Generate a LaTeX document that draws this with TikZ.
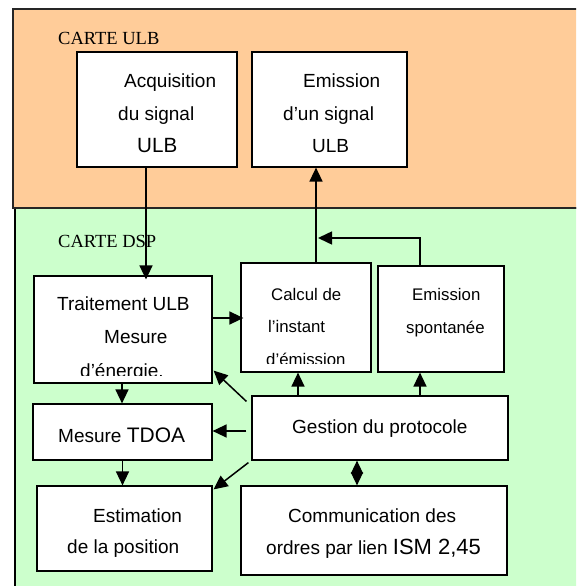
\documentclass[tikz,border=0pt]{standalone}
\usepackage{fontspec}
\setmainfont{Liberation Sans}
\newfontfamily\cartefont{Liberation Serif}
\usetikzlibrary{arrows.meta}
\definecolor{ulbfill}{HTML}{FFCC99}
\definecolor{dspfill}{HTML}{CCFFCC}
\begin{document}
\begin{tikzpicture}[x=1pt,y=-1pt,
  box/.style={draw,line width=1.2pt,fill=white,inner sep=0pt},
  txt/.style={anchor=base west,inner sep=0pt,font=\fontsize{19}{22}\selectfont},
  smalltxt/.style={anchor=base west,inner sep=0pt,font=\fontsize{16.8}{20}\selectfont},
  cartetxt/.style={anchor=base west,inner sep=0pt,font=\cartefont\fontsize{18.5}{22}\selectfont},
  arr/.style={line width=1.5pt,-{Triangle[length=14pt,width=13pt]}},
  dbl/.style={line width=1.5pt,{Triangle[length=13pt,width=12pt]}-{Triangle[length=13pt,width=12pt]}}]
\useasboundingbox (0,0) rectangle (576,586);
\begin{scope}
\clip (0,0) rectangle (576,586);
\draw[fill=dspfill,line width=1.2pt] (15,208) rectangle (600,600);
\draw[fill=ulbfill,line width=2pt,draw=black!85] (13,9) rectangle (600,208);
\end{scope}
\node[cartetxt] (cul) at (58,45) {CARTE ULB};
\node[cartetxt] (cdsp) at (58,247) {CARTE DSP};
% boxes
\node[box,minimum width=160pt,minimum height=115pt] (acq) at (157,109.5) {};
\node[box,minimum width=155pt,minimum height=115pt] (emi) at (329.5,109.5) {};
\node[box,minimum width=178pt,minimum height=107pt] (trt) at (123,329.5) {};
\node[box,minimum width=130pt,minimum height=109pt] (calc) at (306,317.5) {};
\node[box,minimum width=126pt,minimum height=106pt] (spont) at (441,319) {};
\node[box,minimum width=256pt,minimum height=64pt] (gest) at (380,428) {};
\node[box,minimum width=179pt,minimum height=56pt] (tdoa) at (122.5,432) {};
\node[box,minimum width=175pt,minimum height=85pt] (esti) at (124.5,528.5) {};
\node[box,minimum width=266pt,minimum height=89pt] (comm) at (374,530.5) {};
% texts
\node[txt] (t1) at (124,88) {Acquisition};
\node[txt] (t2) at (118,120) {du signal};
\node[txt,font=\fontsize{20.6}{24}\selectfont] (t3) at (137,152) {ULB};
\node[txt] (t4) at (303,88) {Emission};
\node[txt] (t5) at (283,120) {d’un signal};
\node[txt] (t6) at (312,152) {ULB};
\node[txt] (t7) at (57,310) {Traitement ULB};
\node[txt] (t8) at (104,343) {Mesure};
\begin{scope}
\clip (34,355) rectangle (212,375);
\node[txt] (t9) at (80,377) {d’énergie.};
\end{scope}
\node[smalltxt] (t10) at (271,300) {Calcul de};
\node[smalltxt] (t11) at (268,332) {l’instant};
\begin{scope}
\clip (241,345) rectangle (371,363.5);
\node[smalltxt] (t12) at (266,365) {d’émission};
\end{scope}
\node[smalltxt] (t13) at (412,300) {Emission};
\node[smalltxt] (t14) at (406,333) {spontanée};
\node[txt] (t15) at (292,433) {Gestion du protocole};
\node[txt] (t16) at (58,442) {Mesure \fontsize{21}{24}\selectfont TDOA};
\node[txt] (t17) at (93,522) {Estimation};
\node[txt] (t18) at (67,553) {de la position};
\node[txt] (t19) at (288,522) {Communication des};
\node[txt] (t20) at (266,554) {ordres par lien \fontsize{22}{25}\selectfont ISM 2,45};
% connectors
\coordinate (j) at (318,238);
\draw[arr] ([xshift=-11pt]acq.south) -- ([xshift=23pt,yshift=-4pt]trt.north);
\draw[arr] ([xshift=10pt]calc.north) -- ([xshift=-13.5pt]emi.south);
\draw[arr] ([xshift=-21pt]spont.north) |- (j);
\draw[arr] ([yshift=11.5pt]trt.east) -- ([xshift=3pt,yshift=11.5pt]trt.east -| calc.west);
\draw[arr] ([xshift=-5pt,yshift=-6pt]gest.north west) -- ([xshift=1pt,yshift=13pt]trt.south east);
\draw[arr] ([xshift=-8pt]calc.south |- gest.north) -- ([xshift=-8pt]calc.south);
\draw[arr] ([xshift=-21pt]spont.south |- gest.north) -- ([xshift=-21pt]spont.south);
\draw[arr] ([xshift=-1pt]trt.south) -- ([xshift=-1pt]trt.south |- tdoa.north);
\draw[arr] ([xshift=-5pt,yshift=-3pt]gest.west) -- ([yshift=-3pt]gest.west -| tdoa.east);
\draw[arr] (tdoa.south) -- (tdoa.south |- esti.north);
\draw[arr] ([xshift=-3pt,yshift=-2pt]gest.south west) -- ([xshift=1pt,yshift=-4pt]esti.north east);
\draw[dbl] ([xshift=-23pt]gest.south) -- ([xshift=-23pt]gest.south |- comm.north);
\end{tikzpicture}
\end{document}
